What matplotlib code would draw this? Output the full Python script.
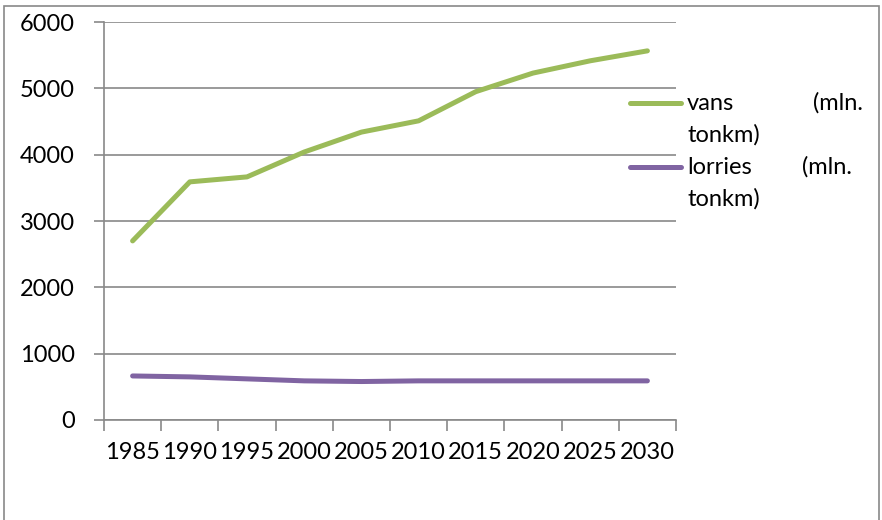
import matplotlib.pyplot as plt
from matplotlib.patches import Rectangle

years = ['1985', '1990', '1995', '2000', '2005', '2010', '2015', '2020', '2025', '2030']
vans = [2700, 3590, 3665, 4040, 4340, 4510, 4950, 5230, 5415, 5565]
lorries = [664, 650, 620, 590, 580, 590, 590, 590, 590, 590]
legend_rows = [('vans', '(mln.', 'tonkm)'), ('lorries', '(mln.', 'tonkm)')]

green = '#9BBB59'
purple = '#8064A2'
gray = '#898989'

plt.rcParams['font.family'] = ['Lato', 'DejaVu Sans']

fig = plt.figure(figsize=(8.82, 5.2), dpi=100)
fig.patches.append(Rectangle((4 / 882, -0.05), 875 / 882, 1.05 - 6 / 520,
                             transform=fig.transFigure, fill=False,
                             edgecolor=gray, linewidth=1.2))

ax = fig.add_axes([104 / 882, 100 / 520, 572 / 882, 398 / 520])
x = list(range(len(years)))
ax.plot(x, vans, color=green, linewidth=3.6, solid_capstyle='round')
ax.plot(x, lorries, color=purple, linewidth=3.6, solid_capstyle='round')

ax.set_xlim(-0.5, len(years) - 0.5)
ax.set_ylim(0, 6000)
ax.set_yticks(range(0, 6001, 1000))
ax.yaxis.grid(True, color=gray, linewidth=1.2)
ax.set_axisbelow(True)
ax.tick_params(axis='y', length=7, width=1.2, color=gray, labelsize=17, pad=14)

ax.set_xticks([i - 0.5 for i in range(len(years) + 1)])
ax.set_xticklabels([])
ax.set_xticks(x, minor=True)
ax.set_xticklabels(years, minor=True)
ax.tick_params(axis='x', which='major', length=8, width=1.2, color=gray)
ax.tick_params(axis='x', which='minor', length=0, labelsize=17, pad=16)

for side in ['top', 'right']:
    ax.spines[side].set_visible(False)
for side in ['left', 'bottom']:
    ax.spines[side].set_color(gray)
    ax.spines[side].set_linewidth(1.2)

# legend drawn by hand, text justified like the Excel original
for row, (name, unit, unit2), col, right in zip(range(2), legend_rows, [green, purple], [863, 852]):
    y0 = 1 - (103 + row * 64) / 520
    fig.add_artist(plt.Line2D([630 / 882, 681 / 882], [y0, y0], color=col,
                              linewidth=3.6, solid_capstyle='round'))
    fig.text(687 / 882, y0, name, fontsize=17, va='center', ha='left')
    fig.text(right / 882, y0, unit, fontsize=17, va='center', ha='right')
    fig.text(687 / 882, y0 - 32 / 520, unit2, fontsize=17, va='center', ha='left')

fig.savefig('out.png', dpi=100)
